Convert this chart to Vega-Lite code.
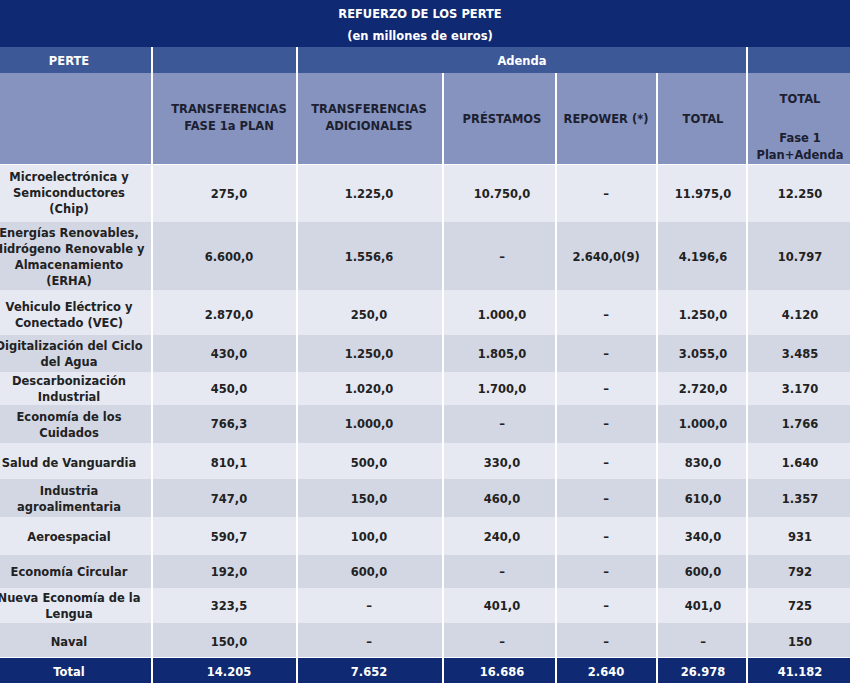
{
  "$schema": "https://vega.github.io/schema/vega-lite/v6.json",
  "width": 850,
  "height": 688,
  "autosize": {"type": "fit", "contains": "padding"},
  "padding": 0,
  "background": "white",
  "config": {
    "view": {"stroke": null},
    "text": {"font": "DejaVu Sans", "fontWeight": "bold", "fontSize": 11.5, "lineBreak": "\n", "baseline": "middle", "align": "center"}
  },
  "datasets": {
    "columnas": [
      {"col": "perte", "x0": 0, "x1": 151, "xm": 69},
      {"col": "fase1", "x0": 153, "x1": 296, "xm": 229},
      {"col": "adic", "x0": 298, "x1": 442, "xm": 369},
      {"col": "prest", "x0": 444, "x1": 555, "xm": 502},
      {"col": "repower", "x0": 557, "x1": 656, "xm": 606},
      {"col": "total", "x0": 658, "x1": 746, "xm": 703},
      {"col": "totfase", "x0": 748, "x1": 850, "xm": 800},
      {"col": "titulo", "xm": 420},
      {"col": "adenda", "xm": 522}
    ],
    "filas": [
      {"fila": "titulo", "y0": 0, "y1": 47, "ym": 27, "yt": 15},
      {"fila": "cab1", "y0": 47, "y1": 73, "ym": 62, "yt": 62},
      {"fila": "cab2", "y0": 73, "y1": 164, "ym": 120, "yt": 120},
      {"fila": "cab2b", "yt": 110},
      {"fila": "cab2c", "yt": 100},
      {"fila": "cab2d", "yt": 139},
      {"fila": "r01", "y0": 165, "y1": 222, "ym": 195, "yt": 178},
      {"fila": "r02", "y0": 222, "y1": 290, "ym": 258, "yt": 234},
      {"fila": "r03", "y0": 290, "y1": 335, "ym": 316, "yt": 308},
      {"fila": "r04", "y0": 335, "y1": 372, "ym": 355, "yt": 347},
      {"fila": "r05", "y0": 372, "y1": 405, "ym": 390, "yt": 382},
      {"fila": "r06", "y0": 405, "y1": 443, "ym": 425, "yt": 418},
      {"fila": "r07", "y0": 443, "y1": 479, "ym": 464, "yt": 464},
      {"fila": "r08", "y0": 479, "y1": 517, "ym": 500, "yt": 492},
      {"fila": "r09", "y0": 517, "y1": 555, "ym": 538, "yt": 538},
      {"fila": "r10", "y0": 555, "y1": 588, "ym": 573, "yt": 573},
      {"fila": "r11", "y0": 588, "y1": 623, "ym": 607, "yt": 599},
      {"fila": "r12", "y0": 623, "y1": 657, "ym": 643, "yt": 643},
      {"fila": "tot", "y0": 658, "y1": 683, "ym": 673, "yt": 673}
    ],
    "cabecera": [
      {"fila": "titulo", "ancla": "titulo", "desde": "perte", "hasta": "totfase", "centro": "titulo", "texto": "REFUERZO DE LOS PERTE\n(en millones de euros)"},
      {"fila": "cab1", "ancla": "cab1", "desde": "perte", "hasta": "perte", "centro": "perte", "texto": "PERTE"},
      {"fila": "cab1", "ancla": "cab1", "desde": "fase1", "hasta": "fase1", "centro": "fase1", "texto": ""},
      {"fila": "cab1", "ancla": "cab1", "desde": "adic", "hasta": "total", "centro": "adenda", "texto": "Adenda"},
      {"fila": "cab1", "ancla": "cab1", "desde": "totfase", "hasta": "totfase", "centro": "totfase", "texto": ""},
      {"fila": "cab2", "ancla": "cab2", "desde": "perte", "hasta": "perte", "centro": "perte", "texto": ""},
      {"fila": "cab2", "ancla": "cab2b", "desde": "fase1", "hasta": "fase1", "centro": "fase1", "texto": "TRANSFERENCIAS\nFASE 1a PLAN"},
      {"fila": "cab2", "ancla": "cab2b", "desde": "adic", "hasta": "adic", "centro": "adic", "texto": "TRANSFERENCIAS\nADICIONALES"},
      {"fila": "cab2", "ancla": "cab2", "desde": "prest", "hasta": "prest", "centro": "prest", "texto": "PRÉSTAMOS"},
      {"fila": "cab2", "ancla": "cab2", "desde": "repower", "hasta": "repower", "centro": "repower", "texto": "REPOWER (*)"},
      {"fila": "cab2", "ancla": "cab2", "desde": "total", "hasta": "total", "centro": "total", "texto": "TOTAL"},
      {"fila": "cab2", "ancla": "cab2c", "desde": "totfase", "hasta": "totfase", "centro": "totfase", "texto": "TOTAL"},
      {"fila": "cab2", "ancla": "cab2d", "desde": "totfase", "hasta": "totfase", "centro": "totfase", "texto": "Fase 1\nPlan+Adenda"}
    ],
    "tabla": [
      {"fila": "r01", "perte": "Microelectrónica y\nSemiconductores\n(Chip)", "fase1": "275,0", "adic": "1.225,0", "prest": "10.750,0", "repower": "–", "total": "11.975,0", "totfase": "12.250"},
      {"fila": "r02", "perte": "Energías Renovables,\nHidrógeno Renovable y\nAlmacenamiento\n(ERHA)", "fase1": "6.600,0", "adic": "1.556,6", "prest": "–", "repower": "2.640,0(9)", "total": "4.196,6", "totfase": "10.797"},
      {"fila": "r03", "perte": "Vehiculo Eléctrico y\nConectado (VEC)", "fase1": "2.870,0", "adic": "250,0", "prest": "1.000,0", "repower": "–", "total": "1.250,0", "totfase": "4.120"},
      {"fila": "r04", "perte": "Digitalización del Ciclo\ndel Agua", "fase1": "430,0", "adic": "1.250,0", "prest": "1.805,0", "repower": "–", "total": "3.055,0", "totfase": "3.485"},
      {"fila": "r05", "perte": "Descarbonización\nIndustrial", "fase1": "450,0", "adic": "1.020,0", "prest": "1.700,0", "repower": "–", "total": "2.720,0", "totfase": "3.170"},
      {"fila": "r06", "perte": "Economía de los\nCuidados", "fase1": "766,3", "adic": "1.000,0", "prest": "–", "repower": "–", "total": "1.000,0", "totfase": "1.766"},
      {"fila": "r07", "perte": "Salud de Vanguardia", "fase1": "810,1", "adic": "500,0", "prest": "330,0", "repower": "–", "total": "830,0", "totfase": "1.640"},
      {"fila": "r08", "perte": "Industria\nagroalimentaria", "fase1": "747,0", "adic": "150,0", "prest": "460,0", "repower": "–", "total": "610,0", "totfase": "1.357"},
      {"fila": "r09", "perte": "Aeroespacial", "fase1": "590,7", "adic": "100,0", "prest": "240,0", "repower": "–", "total": "340,0", "totfase": "931"},
      {"fila": "r10", "perte": "Economía Circular", "fase1": "192,0", "adic": "600,0", "prest": "–", "repower": "–", "total": "600,0", "totfase": "792"},
      {"fila": "r11", "perte": "Nueva Economía de la\nLengua", "fase1": "323,5", "adic": "–", "prest": "401,0", "repower": "–", "total": "401,0", "totfase": "725"},
      {"fila": "r12", "perte": "Naval", "fase1": "150,0", "adic": "–", "prest": "–", "repower": "–", "total": "–", "totfase": "150"},
      {"fila": "tot", "perte": "Total", "fase1": "14.205", "adic": "7.652", "prest": "16.686", "repower": "2.640", "total": "26.978", "totfase": "41.182"}
    ]
  },
  "layer": [
    {
      "data": {"name": "cabecera"},
      "transform": [
        {"lookup": "desde", "from": {"data": {"name": "columnas"}, "key": "col", "fields": ["x0"]}},
        {"lookup": "hasta", "from": {"data": {"name": "columnas"}, "key": "col", "fields": ["x1"]}},
        {"lookup": "fila", "from": {"data": {"name": "filas"}, "key": "fila", "fields": ["y0", "y1"]}}
      ],
      "mark": {"type": "rect"},
      "encoding": {
        "x": {"field": "x0", "type": "quantitative", "scale": {"domain": [0, 850], "nice": false, "zero": false}, "axis": null},
        "x2": {"field": "x1"},
        "y": {"field": "y0", "type": "quantitative", "scale": {"domain": [0, 688], "reverse": true, "nice": false, "zero": false}, "axis": null},
        "y2": {"field": "y1"},
        "fill": {"field": "fila", "type": "nominal", "legend": null,
          "scale": {"domain": ["titulo", "cab1", "cab2", "r01", "r02", "r03", "r04", "r05", "r06", "r07", "r08", "r09", "r10", "r11", "r12", "tot"],
                    "range": ["#0f2a72", "#3d5896", "#8593be", "#e6e9f2", "#d3d7e4", "#e6e9f2", "#d3d7e4", "#e6e9f2", "#d3d7e4", "#e6e9f2", "#d3d7e4", "#e6e9f2", "#d3d7e4", "#e6e9f2", "#d3d7e4", "#0f2a72"]}}
      }
    },
    {
      "data": {"name": "tabla"},
      "transform": [
        {"fold": ["perte", "fase1", "adic", "prest", "repower", "total", "totfase"], "as": ["col", "texto"]},
        {"lookup": "col", "from": {"data": {"name": "columnas"}, "key": "col", "fields": ["x0", "x1", "xm"]}},
        {"lookup": "fila", "from": {"data": {"name": "filas"}, "key": "fila", "fields": ["y0", "y1", "ym", "yt"]}}
      ],
      "layer": [
        {
          "mark": {"type": "rect"},
          "encoding": {
            "x": {"field": "x0", "type": "quantitative", "axis": null},
            "x2": {"field": "x1"},
            "y": {"field": "y0", "type": "quantitative", "axis": null},
            "y2": {"field": "y1"},
            "fill": {"field": "fila", "type": "nominal", "legend": null}
          }
        },
        {
          "transform": [{"filter": "datum.col === 'perte'"}],
          "mark": {"type": "text", "lineHeight": 16, "clip": true},
          "encoding": {
            "x": {"field": "xm", "type": "quantitative", "axis": null},
            "y": {"field": "yt", "type": "quantitative", "axis": null},
            "text": {"field": "texto"},
            "color": {"condition": {"test": "datum.fila === 'tot'", "value": "#ffffff"}, "value": "#222222"}
          }
        },
        {
          "transform": [{"filter": "datum.col !== 'perte'"}],
          "mark": {"type": "text"},
          "encoding": {
            "x": {"field": "xm", "type": "quantitative", "axis": null},
            "y": {"field": "ym", "type": "quantitative", "axis": null},
            "text": {"field": "texto"},
            "color": {"condition": {"test": "datum.fila === 'tot'", "value": "#ffffff"}, "value": "#222222"}
          }
        }
      ]
    },
    {
      "data": {"name": "cabecera"},
      "transform": [
        {"filter": "datum.fila !== 'titulo'"},
        {"lookup": "centro", "from": {"data": {"name": "columnas"}, "key": "col", "fields": ["xm"]}},
        {"lookup": "ancla", "from": {"data": {"name": "filas"}, "key": "fila", "fields": ["yt"]}}
      ],
      "mark": {"type": "text", "lineHeight": 17},
      "encoding": {
        "x": {"field": "xm", "type": "quantitative", "axis": null},
        "y": {"field": "yt", "type": "quantitative", "axis": null},
        "text": {"field": "texto"},
        "color": {"condition": {"test": "datum.fila === 'cab2'", "value": "#1c2030"}, "value": "#ffffff"}
      }
    },
    {
      "data": {"name": "cabecera"},
      "transform": [
        {"filter": "datum.fila === 'titulo'"},
        {"lookup": "centro", "from": {"data": {"name": "columnas"}, "key": "col", "fields": ["xm"]}},
        {"lookup": "ancla", "from": {"data": {"name": "filas"}, "key": "fila", "fields": ["yt"]}}
      ],
      "mark": {"type": "text", "lineHeight": 22, "color": "#ffffff"},
      "encoding": {
        "x": {"field": "xm", "type": "quantitative", "axis": null},
        "y": {"field": "yt", "type": "quantitative", "axis": null},
        "text": {"field": "texto"}
      }
    }
  ]
}
